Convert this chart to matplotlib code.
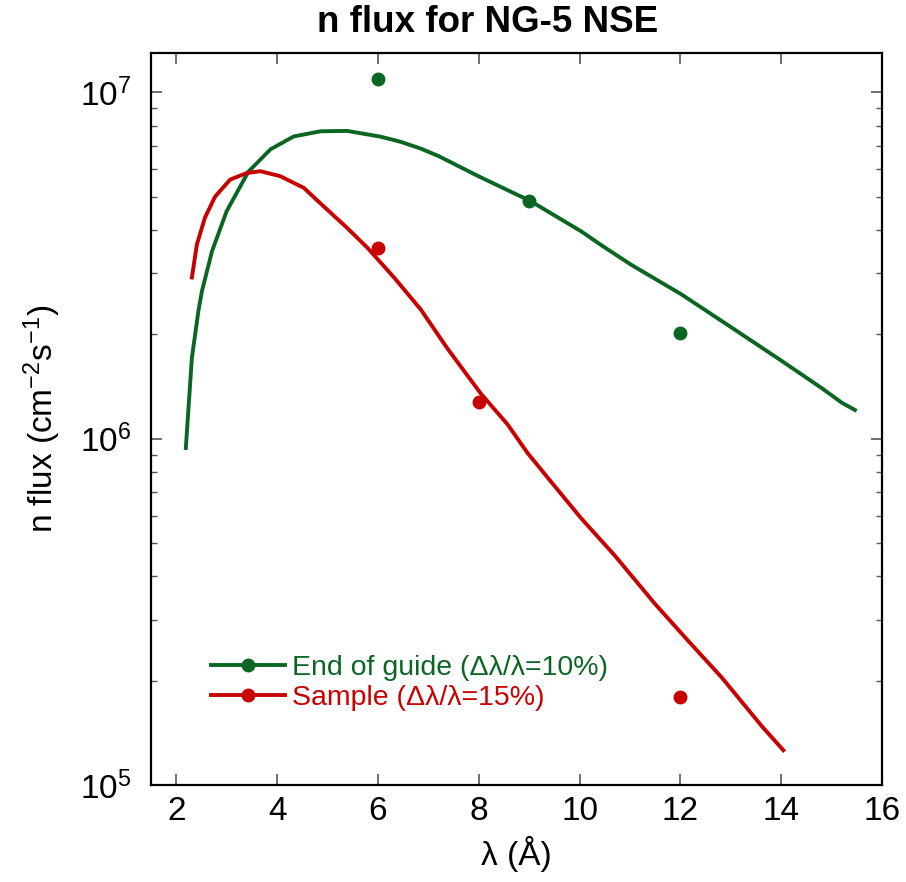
import matplotlib
matplotlib.use("Agg")
import matplotlib.pyplot as plt
from matplotlib.lines import Line2D
from matplotlib.ticker import LogLocator, NullLocator

plt.rcParams['font.family'] = ['Liberation Sans', 'DejaVu Sans']
plt.rcParams['mathtext.fontset'] = 'custom'
plt.rcParams['mathtext.rm'] = 'Liberation Sans'
plt.rcParams['mathtext.it'] = 'Liberation Sans:italic'

# guide end curve (lambda in A, flux)
guide_lam = [2.19, 2.31, 2.44, 2.51, 2.71, 3.0, 3.43, 3.87, 4.33, 4.86, 5.39,
             6.05, 6.45, 6.85, 7.2, 8.0, 9.03, 10.03, 10.43, 11.02, 12.02,
             13.0, 14.0, 14.8, 15.2, 15.46]
guide_flux = [9.4e5, 1.71e6, 2.34e6, 2.67e6, 3.48e6, 4.54e6, 5.9e6, 6.85e6,
              7.46e6, 7.72e6, 7.74e6, 7.45e6, 7.2e6, 6.88e6, 6.55e6, 5.72e6,
              4.85e6, 3.97e6, 3.62e6, 3.18e6, 2.61e6, 2.1e6, 1.68e6, 1.40e6,
              1.27e6, 1.21e6]

# sample curve
sample_lam = [2.31, 2.41, 2.57, 2.77, 3.07, 3.40, 3.67, 4.06, 4.53, 4.86, 5.39,
              5.79, 6.32, 6.85, 7.38, 8.04, 8.57, 8.97, 9.43, 10.03, 10.69,
              11.49, 12.15, 12.81, 13.61, 14.04]
sample_flux = [2.92e6, 3.64e6, 4.35e6, 5.0e6, 5.60e6, 5.85e6, 5.92e6, 5.73e6,
               5.3e6, 4.78e6, 4.06e6, 3.56e6, 2.92e6, 2.36e6, 1.82e6, 1.35e6,
               1.10e6, 9.08e5, 7.52e5, 5.89e5, 4.61e5, 3.34e5, 2.61e5, 2.05e5,
               1.48e5, 1.26e5]

# measured points
guide_pts_lam = [6, 9, 12]
guide_pts_flux = [1.09e7, 4.85e6, 2.02e6]
sample_pts_lam = [6, 8, 12]
sample_pts_flux = [3.56e6, 1.28e6, 1.80e5]

green = '#0b6623'
red = '#c80000'

fig = plt.figure(figsize=(9.06, 8.82), dpi=100)
ax = fig.add_axes([0.1667, 0.11, 0.807, 0.83])

ax.plot(guide_lam, guide_flux, color=green, lw=2.8, solid_joinstyle='round')
ax.plot(sample_lam, sample_flux, color=red, lw=2.8, solid_joinstyle='round')
ax.plot(guide_pts_lam, guide_pts_flux, 'o', color=green, ms=9)
ax.plot(sample_pts_lam, sample_pts_flux, 'o', color=red, ms=9)

ax.set_yscale('log')
ax.set_xlim(1.5, 16)
ax.set_ylim(1e5, 1.3e7)
ax.set_xticks([2, 4, 6, 8, 10, 12, 14, 16])
ax.xaxis.set_minor_locator(NullLocator())
ax.yaxis.set_major_locator(LogLocator(base=10))
ax.yaxis.set_minor_locator(LogLocator(base=10, subs=range(2, 10)))

ax.tick_params(which='both', direction='in', top=True, right=True,
               color='#555555', labelsize=24)
ax.tick_params(axis='x', pad=8)
ax.tick_params(axis='y', pad=14)
ax.tick_params(which='major', length=8, width=1.2)
ax.tick_params(which='minor', length=4.5, width=1.0)
for s in ax.spines.values():
    s.set_linewidth(1.6)

ax.set_xlabel('λ (Å)', fontsize=24, labelpad=6)
ax.set_ylabel('n flux (cm$^{-2}$s$^{-1}$)', fontsize=24, labelpad=12)
fig.text(0.538, 0.974, 'n flux for NG-5 NSE', fontsize=26.5, fontweight='bold',
         ha='center', va='center')

handles = [Line2D([], [], color=green, lw=2.8, marker='o', ms=9),
           Line2D([], [], color=red, lw=2.8, marker='o', ms=9)]
labels = ['End of guide (Δλ/λ=10%)', 'Sample (Δλ/λ=15%)']
ax.legend(handles, labels, loc='upper left', bbox_to_anchor=(0.082, 0.178),
          frameon=False, fontsize=20.5, handlelength=2.6, handletextpad=0.25,
          labelspacing=0.15, borderpad=0, borderaxespad=0,
          labelcolor='linecolor')

fig.savefig('out.png', dpi=100)
